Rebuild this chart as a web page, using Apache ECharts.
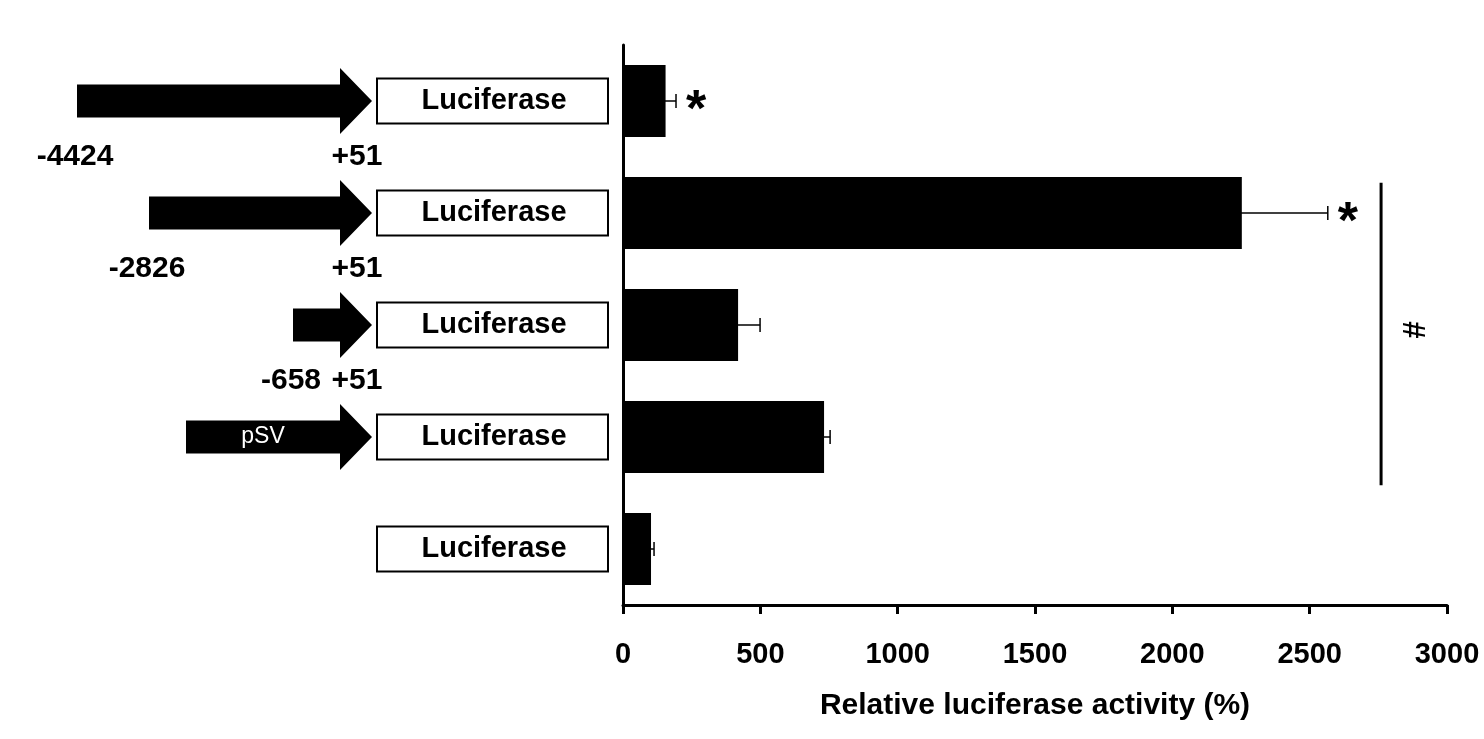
<!DOCTYPE html>
<html>
<head>
<meta charset="utf-8">
<script src="https://cdn.jsdelivr.net/npm/echarts@6/dist/echarts.min.js"></script>
<style>
  html, body { margin: 0; padding: 0; background: #fff; }
  #chart { width: 1484px; height: 739px; }
</style>
</head>
<body>
<div id="chart"></div>
<script>
// constructs, top to bottom
const promoterStarts = ['-4424', '-2826', '-658', 'pSV', '']
const promoterEnd = '+51'
const reporter = 'Luciferase'
const activity = [155, 2253, 419, 732, 102]
const activitySem = [38, 313, 80, 22, 11]
const sigMarks = ['*', '*', '', '', '']
const hashPair = [1, 3]
const hashAt = 2760
const xTicks = [0, 500, 1000, 1500, 2000, 2500, 3000]

// drawing layout for the construct diagram (pixels on the left panel)
const arrowTail = [77, 149, 293, 186, null]
const cats = activity.map((_, i) => 'c' + i)

const FONT = 'Liberation Sans, Arial, sans-serif'
const chart = echarts.init(document.getElementById('chart'), null, { renderer: 'canvas' })

function renderConstruct(params, api) {
  const i = api.value(1)
  const cy = api.coord([0, i])[1]
  const kids = []
  const tail = arrowTail[i]
  const headBase = 340
  const tip = 372
  if (tail != null) {
    kids.push({
      type: 'polygon',
      shape: {
        points: [
          [tail, cy - 16.5], [headBase, cy - 16.5], [headBase, cy - 33],
          [tip, cy], [headBase, cy + 33], [headBase, cy + 16.5], [tail, cy + 16.5],
        ],
      },
      style: { fill: '#000' },
    })
    const start = promoterStarts[i]
    if (start === 'pSV') {
      kids.push({
        type: 'text',
        style: {
          text: start, x: (tail + headBase) / 2, y: cy, align: 'center', verticalAlign: 'middle',
          fill: '#fff', font: 'normal 23px ' + FONT,
        },
      })
    } else {
      kids.push({
        type: 'text',
        style: {
          text: start, x: tail - 2, y: cy + 56, align: 'center', verticalAlign: 'middle',
          fill: '#000', font: 'bold 30px ' + FONT,
        },
      })
      kids.push({
        type: 'text',
        style: {
          text: promoterEnd, x: 357, y: cy + 56, align: 'center', verticalAlign: 'middle',
          fill: '#000', font: 'bold 30px ' + FONT,
        },
      })
    }
  }
  kids.push({
    type: 'rect',
    shape: { x: 377, y: cy - 22.5, width: 231, height: 45 },
    style: { fill: '#fff', stroke: '#000', lineWidth: 2 },
  })
  kids.push({
    type: 'text',
    style: {
      text: reporter, x: 494, y: cy, align: 'center', verticalAlign: 'middle',
      fill: '#000', font: 'bold 29px ' + FONT,
    },
  })
  return { type: 'group', children: kids }
}

function renderError(params, api) {
  const i = api.value(1)
  const v = api.value(0)
  const e = api.value(2)
  const lo = api.coord([v - e, i])
  const hi = api.coord([v + e, i])
  const kids = [
    { type: 'line', shape: { x1: lo[0], y1: lo[1], x2: hi[0], y2: hi[1] }, style: { stroke: '#000', lineWidth: 1.5 } },
    { type: 'line', shape: { x1: hi[0], y1: hi[1] - 7, x2: hi[0], y2: hi[1] + 7 }, style: { stroke: '#000', lineWidth: 1.5 } },
  ]
  const mark = sigMarks[i]
  if (mark) {
    kids.push({
      type: 'text',
      style: {
        text: mark, x: hi[0] + 20, y: hi[1] + 11, align: 'center', verticalAlign: 'middle',
        fill: '#000', font: 'bold 52px ' + FONT,
      },
    })
  }
  return { type: 'group', children: kids }
}

function renderHash(params, api) {
  const band = api.size([0, 1])[1]
  const a = api.coord([hashAt, hashPair[0]])
  const b = api.coord([hashAt, hashPair[1]])
  const y1 = a[1] - 0.27 * band
  const y2 = b[1] + 0.43 * band
  return {
    type: 'group',
    children: [
      { type: 'line', shape: { x1: a[0], y1: y1, x2: a[0], y2: y2 }, style: { stroke: '#000', lineWidth: 3 } },
      {
        type: 'text', x: a[0] + 30, y: (y1 + y2) / 2 - 4, rotation: -Math.PI / 2,
        style: { text: '#', x: 0, y: 0, align: 'center', verticalAlign: 'middle', fill: '#000', font: 'bold 31px ' + FONT },
      },
    ],
  }
}

chart.setOption({
  backgroundColor: '#fff',
  animation: false,
  grid: [
    { left: 623, right: 37, top: 45, bottom: 134, outerBoundsMode: 'none' },
    { left: 0, width: 623, top: 45, bottom: 134, outerBoundsMode: 'none' },
  ],
  xAxis: [
    {
      type: 'value', gridIndex: 0, min: 0, max: 3000, interval: 500,
      axisLine: { show: true, lineStyle: { color: '#000', width: 3 } },
      axisTick: { show: true, inside: false, length: 9, lineStyle: { color: '#000', width: 3 } },
      splitLine: { show: false },
      axisLabel: { color: '#000', fontFamily: FONT, fontWeight: 'bold', fontSize: 29, margin: 35,
        formatter: (v) => (xTicks.includes(v) ? String(v) : '') },
      name: 'Relative luciferase activity (%)',
      nameLocation: 'middle', nameGap: 86,
      nameTextStyle: { color: '#000', fontFamily: FONT, fontWeight: 'bold', fontSize: 30 },
    },
    { type: 'value', gridIndex: 1, min: 0, max: 623, show: false },
  ],
  yAxis: [
    {
      type: 'category', gridIndex: 0, data: cats, inverse: true,
      axisLine: { show: true, lineStyle: { color: '#000', width: 3 } },
      axisTick: { show: false }, axisLabel: { show: false }, splitLine: { show: false },
    },
    { type: 'category', gridIndex: 1, data: cats, inverse: true, show: false },
  ],
  series: [
    {
      type: 'bar', xAxisIndex: 0, yAxisIndex: 0, data: activity,
      barWidth: 72, itemStyle: { color: '#000' }, z: 2,
    },
    {
      type: 'custom', xAxisIndex: 0, yAxisIndex: 0, z: 3,
      data: activity.map((v, i) => [v, i, activitySem[i]]),
      renderItem: renderError,
    },
    {
      type: 'custom', xAxisIndex: 0, yAxisIndex: 0, z: 3,
      data: [[hashAt, hashPair[0]]],
      renderItem: renderHash,
    },
    {
      type: 'custom', xAxisIndex: 1, yAxisIndex: 1, z: 3,
      data: promoterStarts.map((s, i) => [0, i]),
      renderItem: renderConstruct,
    },
  ],
})
</script>
</body>
</html>
